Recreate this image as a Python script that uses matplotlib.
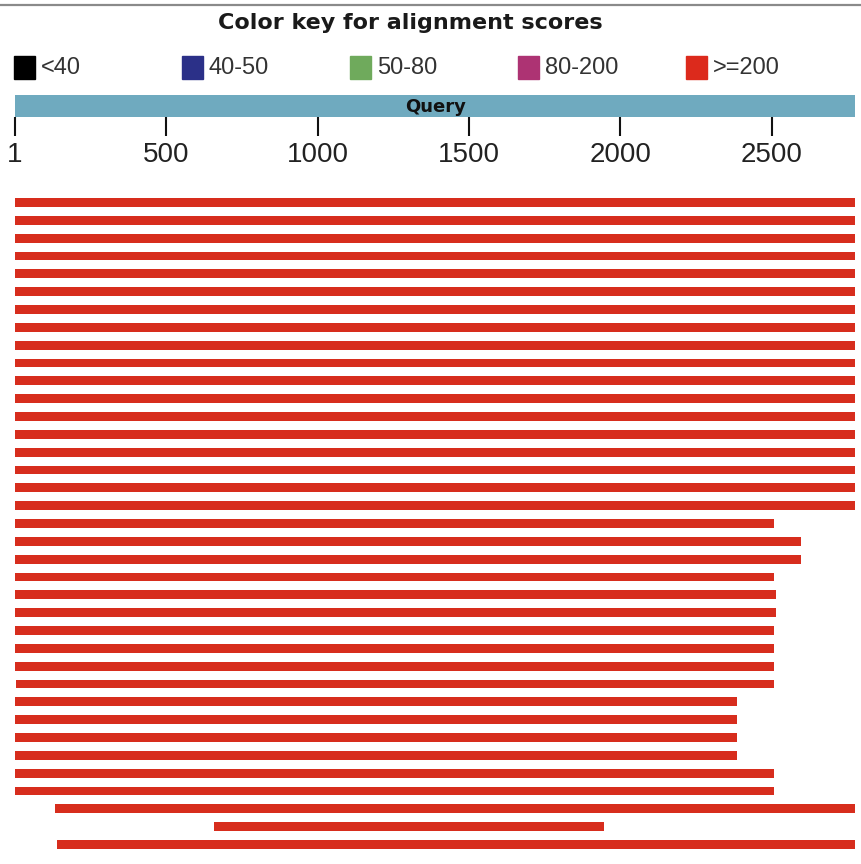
import matplotlib
matplotlib.use('Agg')
import matplotlib.pyplot as plt
from matplotlib.patches import Rectangle

# Query length and alignment ranges (start, end) for each hit, top to bottom
query_len = 2775
hit_start = [1] * 18 + [1, 1, 1, 1, 1, 1, 1, 1, 1, 4,
                        1, 1, 1, 1, 1, 1, 133, 658, 140]
hit_end = [2775] * 18 + [2507, 2596, 2596, 2507, 2513, 2513, 2507, 2507, 2507, 2507,
                         2385, 2385, 2385, 2385, 2507, 2507, 2775, 1945, 2775]

# Colour key
key_labels = ['<40', '40-50', '50-80', '80-200', '>=200']
key_colors = ['#000000', '#2b3088', '#6faa5c', '#ad3373', '#dc2a1c']
hit_color = '#d72d1d'

tick_values = [1, 500, 1000, 1500, 2000, 2500]

W, H = 862, 864
fig = plt.figure(figsize=(W / 100, H / 100), dpi=100)
plt.rcParams['font.family'] = ['DejaVu Sans']


def box(x0, y0, x1, y1):
    # pixel box -> figure fraction [left, bottom, width, height]
    return [x0 / W, 1 - y1 / H, (x1 - x0) / W, (y1 - y0) / H]


seq_lim = (-48.5, 2797.3)

# --- header: title, colour key, frame line ---
ax_top = fig.add_axes([0, 0, 1, 1])
ax_top.set_xlim(0, W)
ax_top.set_ylim(H, 0)
ax_top.axis('off')
ax_top.axhline(5, color='#8a8a8a', lw=1.6)
ax_top.text(410, 23, 'Color key for alignment scores', ha='center', va='center',
            fontsize=16, fontweight='bold', color='#1a1a1a')
for i, (lab, col) in enumerate(zip(key_labels, key_colors)):
    x = 14 + i * 168
    ax_top.add_patch(Rectangle((x, 56), 21, 23, color=col))
    ax_top.text(x + 27, 67.5, lab, ha='left', va='center', fontsize=17,
                color='#333333', family='Liberation Sans')

# --- query bar with coordinate ticks ---
ax_q = fig.add_axes(box(0, 95, W, 117))
ax_q.set_xlim(*seq_lim)
ax_q.set_ylim(0, 1)
ax_q.barh(0.5, query_len, left=0, height=1.0, color='#6faabf')
ax_q.text(1391, 0.45, 'Query', ha='center', va='center',
          fontsize=13, fontweight='bold', color='#111111')
for s in ax_q.spines.values():
    s.set_visible(False)
ax_q.set_yticks([])
ax_q.set_xticks(tick_values)
ax_q.set_xticklabels([str(v) for v in tick_values], family='Liberation Sans',
                     fontsize=20, color='#222222')
ax_q.tick_params(axis='x', direction='out', length=14, width=1.5, pad=4,
                 color='#111111')

# --- alignment hits ---
n = len(hit_start)
ax = fig.add_axes(box(0, 193.6, W, 853.4))
ax.set_xlim(*seq_lim)
ax.set_ylim(n - 0.5, -0.5)
rows = list(range(n))
widths = [e - s + 1 for s, e in zip(hit_start, hit_end)]
lefts = [s - 1 for s in hit_start]
ax.barh(rows, widths, left=lefts, height=0.5, color=hit_color)
ax.axis('off')

fig.savefig('out.png', dpi=100)
plt.close(fig)
